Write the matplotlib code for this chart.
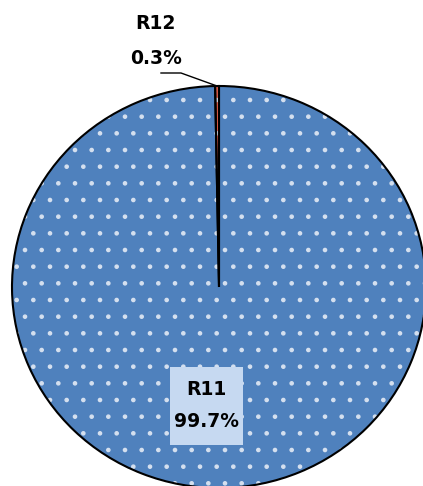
import numpy as np
import matplotlib.pyplot as plt
from matplotlib.patches import Rectangle

# datos del grafico
etiquetas = ['R11', 'R12']
valores = [99.7, 0.3]
colores = ['#4F81BD', '#E8604C']

plt.rcParams['hatch.linewidth'] = 0.9
plt.rcParams['font.family'] = ['DejaVu Sans']

fig = plt.figure(figsize=(4.23, 4.86), dpi=100)
ax = fig.add_axes([0, 0, 1, 1])

# centro (219, 287) px, radio 207 x 201 px
cx, cy, rx, ry = 219, 287, 207, 201
# relleno con puntos blancos
wedges, _ = ax.pie(valores, colors=colores, startangle=90, counterclock=False,
                   wedgeprops=dict(edgecolor='#D5E0EF', linewidth=0))
for w in wedges:
    w.set_hatch('.')
# bordes negros
ax.pie(valores, startangle=90, counterclock=False,
       wedgeprops=dict(fill=False, edgecolor='black', linewidth=1.5))
ax.set_aspect('auto')
ax.set_xlim((0 - cx) / rx, (423 - cx) / rx)
ax.set_ylim((cy - 486) / ry, (cy - 0) / ry)
ax.axis('off')

def px(x, y):
    return (x - cx) / rx, (cy - y) / ry

# etiqueta R11 con caja
x0, y1 = px(170, 367)
x1, y0 = px(243, 445)
ax.add_patch(Rectangle((x0, y0), x1 - x0, y1 - y0, facecolor='#C6D9F1',
                       edgecolor='none', zorder=3))
ax.text(*px(206, 389), etiquetas[0], ha='center', va='center',
        fontsize=13.5, fontweight='bold', zorder=4)
ax.text(*px(206, 421), f'{valores[0]}%', ha='center', va='center',
        fontsize=13.5, fontweight='bold', zorder=4)

# etiqueta R12 con linea guia
ax.text(*px(155, 23), etiquetas[1], ha='center', va='center',
        fontsize=13.5, fontweight='bold')
ax.text(*px(156, 58), f'{valores[1]}%', ha='center', va='center',
        fontsize=13.5, fontweight='bold')
lx, ly = zip(px(161, 73), px(181, 73), px(217, 86))
ax.plot(lx, ly, color='black', linewidth=1)

fig.savefig('out.png', dpi=100)
